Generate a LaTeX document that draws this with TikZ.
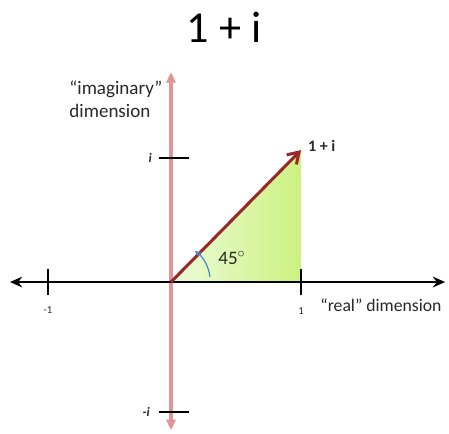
\documentclass[tikz,border=0pt]{standalone}
\usepackage{fontspec}
\setmainfont{Carlito}
\usetikzlibrary{positioning,arrows.meta}
\definecolor{axisred}{RGB}{224,150,150}
\definecolor{vecred}{RGB}{155,40,40}
\definecolor{arcblue}{RGB}{80,130,200}
\definecolor{fillgreenA}{RGB}{236,252,218}
\definecolor{fillgreenB}{RGB}{204,242,128}
\definecolor{textgray}{RGB}{40,40,40}

\begin{document}
\begin{tikzpicture}[
            x=3cm, y=3cm,
            axis/.style={line width=1.6pt, black},
            imag/.style={line width=2pt, axisred},
            tickmark/.style={line width=1.6pt, black},
            lbl/.style={inner sep=1pt, text=textgray},
            small/.style={lbl, font=\fontsize{7}{8}\selectfont}
        ]
            % frame of the picture
            \useasboundingbox (-1.315,-1.1615) rectangle (2.138,2.169);

            % points
            \coordinate (O) at (0,0);
            \coordinate (P) at (1,1.015);
            \coordinate (Q) at (1,0);
            \coordinate (xl) at (-1.238,0);
            \coordinate (xr) at (2.108,0);
            \coordinate (yt) at (0,1.615);
            \coordinate (yb) at (0,-1.14);

            % triangle under the vector
            \shade[left color=fillgreenA, right color=fillgreenB] (O) -- (Q) -- (P) -- cycle;

            % axes
            \draw[imag, -{Triangle[length=7pt, width=6pt]}] (O) -- (yt);
            \draw[imag, -{Triangle[length=7pt, width=6pt]}] (O) -- (yb);
            \draw[axis, {Stealth[length=8pt, width=7pt]}-{Stealth[length=8pt, width=7pt]}] (xl) -- (xr);

            % ticks
            \draw[tickmark] (-0.946,-0.1) -- (-0.946,0.1);
            \draw[tickmark] (1,-0.1) -- (1,0.1);
            \draw[tickmark] (-0.09,0.954) -- (0.14,0.954);
            \draw[tickmark] (-0.09,-1) -- (0.14,-1);

            % vector 1+i
            \draw[line width=2pt, vecred, -{Straight Barb[length=7pt, width=9pt, line width=2pt]}] (O) -- (P);

            % angle
            \draw[arcblue, line width=0.8pt, -{Stealth[length=4.5pt, width=4pt]}] (0.3,0.04) arc[start angle=7, end angle=54, radius=0.29];

            % labels
            \node[lbl, font=\fontsize{29}{32}\selectfont, text=black] (title) at (0.408,1.96) {1 + i};
            \node[lbl, anchor=west, align=left, font=\fontsize{12.5}{15}\selectfont] (imaglbl) at (-0.795,1.408) {“imaginary”\\dimension};
            \node[lbl, anchor=west, font=\fontsize{11.6}{14}\selectfont] (reallbl) at (1.135,-0.177) {“real” dimension};
            \node[lbl, anchor=west, font=\bfseries\fontsize{10.5}{12}\selectfont] (plbl) at (1.04,1.05) {1 + i};
            \node[lbl, font=\fontsize{12.5}{14}\selectfont] (anglbl) at (0.469,0.185) {45$^{\circ}$};
            \node[small] (m1) at (-0.946,-0.215) {-1};
            \node[small] (p1) at (1,-0.222) {1};
            \node[lbl, font=\bfseries\itshape\fontsize{8.5}{9}\selectfont] (ilbl) at (-0.16,0.954) {i};
            \node[lbl, font=\bfseries\itshape\fontsize{8.5}{9}\selectfont] (milbl) at (-0.19,-1) {-i};
        \end{tikzpicture}
\end{document}
